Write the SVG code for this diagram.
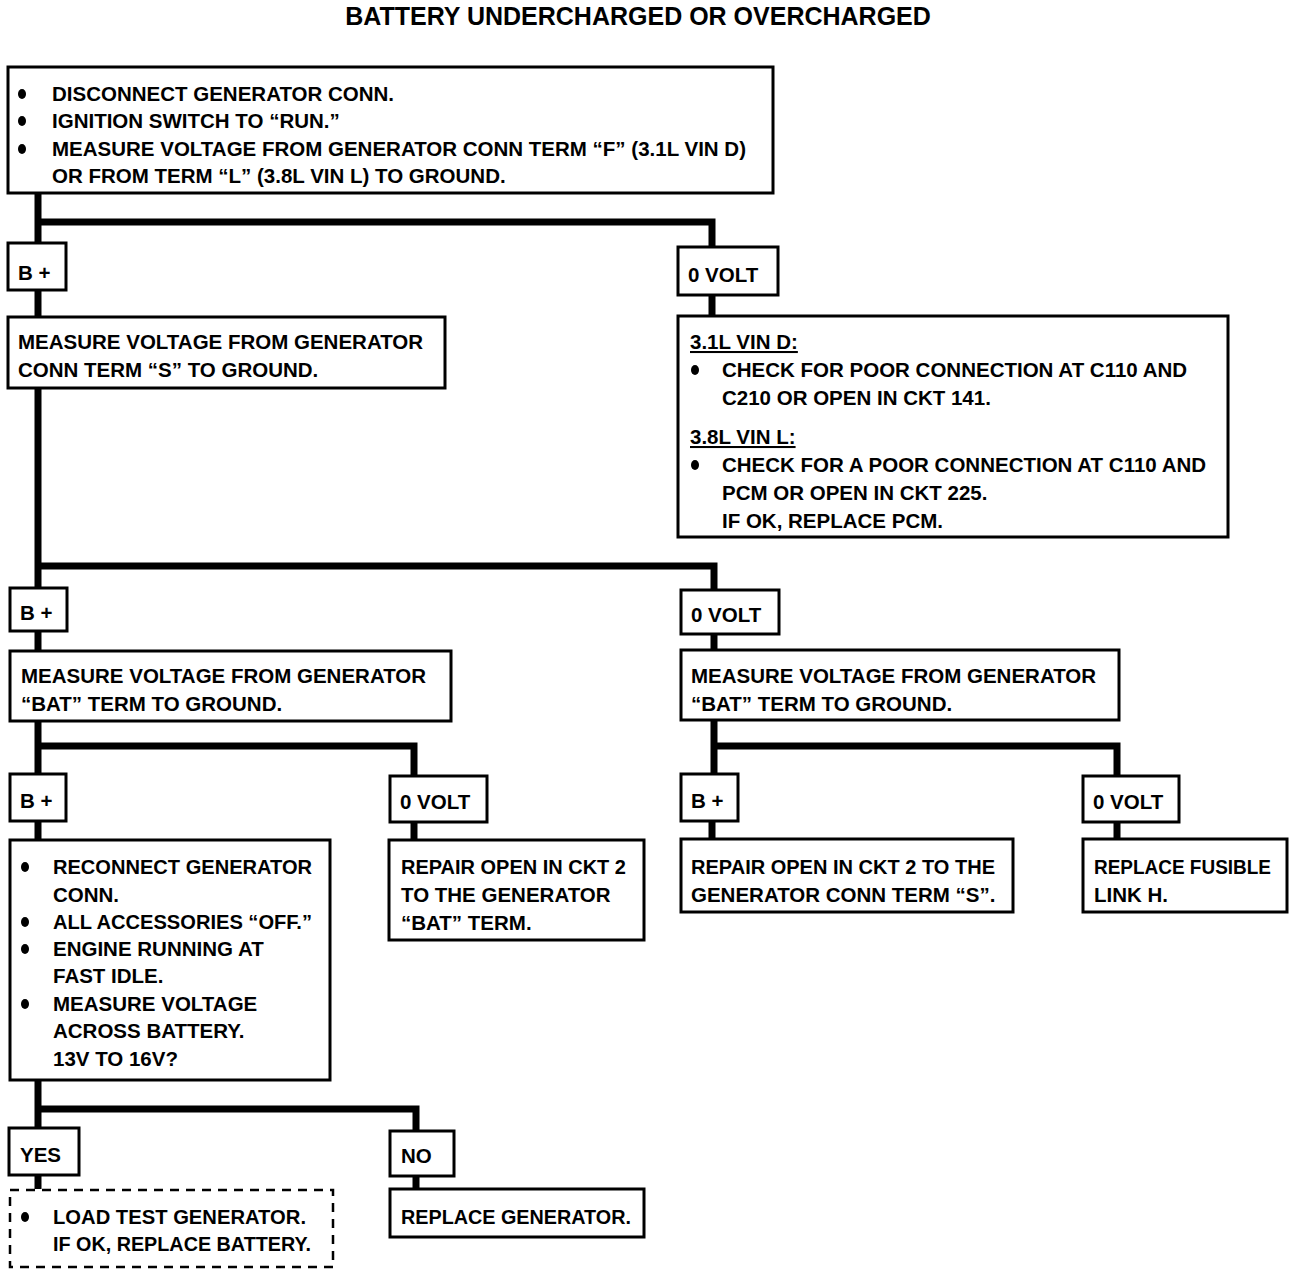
<svg xmlns="http://www.w3.org/2000/svg" width="1312" height="1274" viewBox="0 0 1312 1274">
<style>
.bx{fill:#fff;stroke:#000;stroke-width:3}
.dash{fill:#fff;stroke:#000;stroke-width:2.5;stroke-dasharray:9 7}
.c{fill:none;stroke:#000;stroke-width:7;stroke-linejoin:miter;stroke-linecap:butt}
text{font-family:"Liberation Sans",Arial,sans-serif;font-weight:bold;font-size:20.5px;fill:#000}
.t{font-size:25px}
.u{text-decoration:underline}
.b{fill:#000}
</style>
<rect width="1312" height="1274" fill="#fff"/>
<text class="t" x="638" y="25" text-anchor="middle">BATTERY UNDERCHARGED OR OVERCHARGED</text>

<g id="connectors">
<path class="c" d="M38 193V243M38 222H712V247"/>
<path class="c" d="M38 290V317"/>
<path class="c" d="M712 295V316"/>
<path class="c" d="M38 388V588M38 566H714V590"/>
<path class="c" d="M38 631V651"/>
<path class="c" d="M714 634V650"/>
<path class="c" d="M38 721V774M38 746H414V776"/>
<path class="c" d="M714 720V774M714 746H1117V776"/>
<path class="c" d="M38 821V840"/>
<path class="c" d="M414 822V840"/>
<path class="c" d="M712 821V839"/>
<path class="c" d="M1117 822V839"/>
<path class="c" d="M38 1080V1128M38 1109H416V1131"/>
<path class="c" d="M38 1175V1189"/>
<path class="c" d="M416 1176V1189"/>
</g>

<g id="start">
<rect class="bx" x="8" y="67" width="765" height="126"/>
<ellipse class="b" cx="22" cy="94" rx="4" ry="5"/>
<ellipse class="b" cx="22" cy="121" rx="4" ry="5"/>
<ellipse class="b" cx="22" cy="149" rx="4" ry="5"/>
<text x="52" y="101">DISCONNECT GENERATOR CONN.</text>
<text x="52" y="128">IGNITION SWITCH TO “RUN.”</text>
<text x="52" y="156">MEASURE VOLTAGE FROM GENERATOR CONN TERM “F” (3.1L VIN D)</text>
<text x="52" y="183">OR FROM TERM “L” (3.8L VIN L) TO GROUND.</text>
</g>

<g id="bplus1">
<rect class="bx" x="8" y="243" width="58" height="47"/>
<text x="18" y="280">B +</text>
</g>
<g id="zero1">
<rect class="bx" x="678" y="247" width="100" height="48"/>
<text x="688" y="282">0 VOLT</text>
</g>

<g id="measureS">
<rect class="bx" x="8" y="317" width="437" height="71"/>
<text x="18" y="349">MEASURE VOLTAGE FROM GENERATOR</text>
<text x="18" y="377">CONN TERM “S” TO GROUND.</text>
</g>

<g id="vinCheck">
<rect class="bx" x="678" y="316" width="550" height="221"/>
<text class="u" x="690" y="349">3.1L VIN D:</text>
<ellipse class="b" cx="695" cy="370" rx="4" ry="5"/>
<text x="722" y="377">CHECK FOR POOR CONNECTION AT C110 AND</text>
<text x="722" y="405">C210 OR OPEN IN CKT 141.</text>
<text class="u" x="690" y="444">3.8L VIN L:</text>
<ellipse class="b" cx="695" cy="465" rx="4" ry="5"/>
<text x="722" y="472">CHECK FOR A POOR CONNECTION AT C110 AND</text>
<text x="722" y="500">PCM OR OPEN IN CKT 225.</text>
<text x="722" y="528">IF OK, REPLACE PCM.</text>
</g>

<g id="bplus2">
<rect class="bx" x="10" y="588" width="57" height="43"/>
<text x="20" y="620">B +</text>
</g>
<g id="zero2">
<rect class="bx" x="681" y="590" width="98" height="44"/>
<text x="691" y="622">0 VOLT</text>
</g>

<g id="measureBatL">
<rect class="bx" x="10" y="651" width="441" height="70"/>
<text x="21" y="683">MEASURE VOLTAGE FROM GENERATOR</text>
<text x="21" y="711">“BAT” TERM TO GROUND.</text>
</g>
<g id="measureBatR">
<rect class="bx" x="681" y="650" width="438" height="70"/>
<text x="691" y="683">MEASURE VOLTAGE FROM GENERATOR</text>
<text x="691" y="711">“BAT” TERM TO GROUND.</text>
</g>

<g id="bplus3">
<rect class="bx" x="10" y="774" width="56" height="47"/>
<text x="20" y="808">B +</text>
</g>
<g id="zero3">
<rect class="bx" x="390" y="776" width="97" height="46"/>
<text x="400" y="809">0 VOLT</text>
</g>
<g id="bplus4">
<rect class="bx" x="681" y="774" width="57" height="47"/>
<text x="691" y="808">B +</text>
</g>
<g id="zero4">
<rect class="bx" x="1083" y="776" width="96" height="46"/>
<text x="1093" y="809">0 VOLT</text>
</g>

<g id="reconnect">
<rect class="bx" x="10" y="840" width="320" height="240"/>
<ellipse class="b" cx="25" cy="867" rx="4" ry="5"/>
<ellipse class="b" cx="25" cy="922" rx="4" ry="5"/>
<ellipse class="b" cx="25" cy="949" rx="4" ry="5"/>
<ellipse class="b" cx="25" cy="1004" rx="4" ry="5"/>
<text x="53" y="874" textLength="259" lengthAdjust="spacingAndGlyphs">RECONNECT GENERATOR</text>
<text x="53" y="902">CONN.</text>
<text x="53" y="929" textLength="259" lengthAdjust="spacingAndGlyphs">ALL ACCESSORIES “OFF.”</text>
<text x="53" y="956">ENGINE RUNNING AT</text>
<text x="53" y="983">FAST IDLE.</text>
<text x="53" y="1011">MEASURE VOLTAGE</text>
<text x="53" y="1038">ACROSS BATTERY.</text>
<text x="53" y="1066">13V TO 16V?</text>
</g>

<g id="repairBat">
<rect class="bx" x="389" y="840" width="255" height="100"/>
<text x="401" y="874" textLength="225" lengthAdjust="spacingAndGlyphs">REPAIR OPEN IN CKT 2</text>
<text x="401" y="902">TO THE GENERATOR</text>
<text x="401" y="930">“BAT” TERM.</text>
</g>
<g id="repairS">
<rect class="bx" x="681" y="839" width="332" height="73"/>
<text x="691" y="874" textLength="304" lengthAdjust="spacingAndGlyphs">REPAIR OPEN IN CKT 2 TO THE</text>
<text x="691" y="902">GENERATOR CONN TERM “S”.</text>
</g>
<g id="fusible">
<rect class="bx" x="1083" y="839" width="204" height="73"/>
<text x="1094" y="874" textLength="177" lengthAdjust="spacingAndGlyphs">REPLACE FUSIBLE</text>
<text x="1094" y="902">LINK H.</text>
</g>

<g id="yes">
<rect class="bx" x="9" y="1128" width="70" height="47"/>
<text x="20" y="1162">YES</text>
</g>
<g id="no">
<rect class="bx" x="390" y="1131" width="64" height="45"/>
<text x="401" y="1163">NO</text>
</g>

<g id="loadTest">
<rect class="dash" x="10" y="1190" width="323" height="77"/>
<ellipse class="b" cx="25" cy="1217" rx="4" ry="5"/>
<text x="53" y="1224" textLength="253" lengthAdjust="spacingAndGlyphs">LOAD TEST GENERATOR.</text>
<text x="53" y="1251" textLength="258" lengthAdjust="spacingAndGlyphs">IF OK, REPLACE BATTERY.</text>
</g>
<g id="replaceGen">
<rect class="bx" x="390" y="1189" width="254" height="48"/>
<text x="401" y="1224" textLength="230" lengthAdjust="spacingAndGlyphs">REPLACE GENERATOR.</text>
</g>
</svg>
